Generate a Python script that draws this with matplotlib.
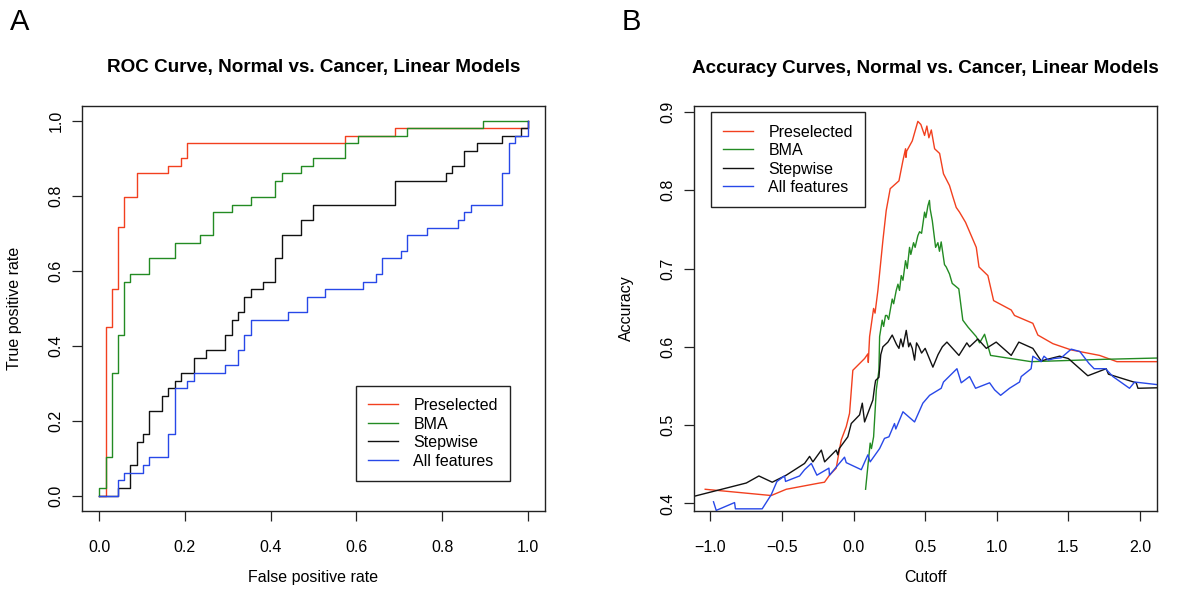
import matplotlib
matplotlib.use("Agg")
import matplotlib.pyplot as plt

plt.rcParams["font.family"] = ["Liberation Sans", "DejaVu Sans"]

# ROC data (false positive rate, true positive rate), step corners
pre_fpr = [0, 0.0155, 0.0295, 0.0434, 0.058, 0.0876, 0.161, 0.191, 0.205, 0.574, 0.690, 1.0]
pre_tpr = [0, 0.449, 0.551, 0.716, 0.797, 0.859, 0.879, 0.900, 0.940, 0.960, 0.980, 1.0]

bma_fpr = [0, 0, 0.0155, 0.0295, 0.0434, 0.058, 0.0729, 0.117, 0.177, 0.235, 0.265, 0.309,
           0.353, 0.411, 0.426, 0.470, 0.499, 0.574, 0.603, 0.719, 0.895, 1.0]
bma_tpr = [0, 0.020, 0.102, 0.327, 0.428, 0.571, 0.592, 0.633, 0.674, 0.694, 0.756, 0.776,
           0.797, 0.838, 0.859, 0.879, 0.900, 0.940, 0.960, 0.980, 1.0, 1.0]

step_fpr = [0, 0.0434, 0.0729, 0.0876, 0.102, 0.117, 0.147, 0.161, 0.177, 0.191, 0.221, 0.250,
            0.294, 0.309, 0.323, 0.338, 0.353, 0.381, 0.411, 0.426, 0.470, 0.499, 0.690, 0.808,
            0.822, 0.851, 0.880, 0.9395, 0.983, 1.0]
step_tpr = [0, 0.020, 0.082, 0.143, 0.164, 0.225, 0.266, 0.286, 0.307, 0.327, 0.368, 0.388,
            0.429, 0.469, 0.491, 0.531, 0.551, 0.571, 0.633, 0.694, 0.735, 0.776, 0.838, 0.859,
            0.879, 0.920, 0.940, 0.960, 0.980, 1.0]

all_fpr = [0, 0.0434, 0.058, 0.102, 0.117, 0.161, 0.177, 0.206, 0.221, 0.294, 0.323, 0.338,
           0.353, 0.440, 0.484, 0.527, 0.616, 0.646, 0.660, 0.704, 0.719, 0.764, 0.8365, 0.851,
           0.866, 0.9395, 0.955, 0.969, 1.0, 1.0]
all_tpr = [0, 0.041, 0.061, 0.082, 0.102, 0.164, 0.286, 0.307, 0.327, 0.348, 0.388, 0.429,
           0.469, 0.491, 0.531, 0.551, 0.571, 0.592, 0.633, 0.653, 0.694, 0.714, 0.735, 0.755,
           0.776, 0.859, 0.940, 0.960, 0.980, 1.0]

# accuracy curves (cutoff, accuracy)
pre_cut = [-1.036, -0.575, -0.470, -0.237, -0.203, -0.168, -0.121, -0.103, -0.086, -0.051, -0.028,
           -0.005, 0.077, 0.100, 0.103, 0.112, 0.140, 0.150, 0.170, 0.205, 0.228, 0.256, 0.317,
           0.345, 0.363, 0.366, 0.371, 0.410, 0.449, 0.470, 0.496, 0.512, 0.526, 0.543, 0.566,
           0.601, 0.628, 0.670, 0.693, 0.717, 0.740, 0.782, 0.857, 0.876, 0.938, 0.978, 1.101,
           1.124, 1.252, 1.287, 1.392, 1.520, 1.718, 1.839, 2.2]
pre_acc = [0.418, 0.410, 0.418, 0.426, 0.427, 0.436, 0.445, 0.464, 0.481, 0.498, 0.515,
           0.570, 0.585, 0.591, 0.580, 0.613, 0.649, 0.643, 0.672, 0.736, 0.774, 0.802, 0.812,
           0.838, 0.853, 0.842, 0.850, 0.863, 0.888, 0.884, 0.870, 0.882, 0.867, 0.877, 0.853,
           0.847, 0.821, 0.806, 0.792, 0.778, 0.772, 0.759, 0.727, 0.702, 0.691, 0.659, 0.647,
           0.640, 0.630, 0.615, 0.604, 0.596, 0.589, 0.581, 0.581]

bma_cut = [0.084, 0.116, 0.125, 0.140, 0.159, 0.177, 0.182, 0.200, 0.210, 0.223, 0.233, 0.245,
           0.270, 0.280, 0.298, 0.310, 0.321, 0.333, 0.345, 0.363, 0.375, 0.391, 0.400, 0.419,
           0.430, 0.449, 0.461, 0.475, 0.496, 0.505, 0.519, 0.530, 0.535, 0.550, 0.573, 0.589,
           0.600, 0.612, 0.635, 0.647, 0.670, 0.689, 0.735, 0.763, 0.800, 0.857, 0.880, 0.915,
           0.957, 1.240, 1.750, 2.2]
bma_acc = [0.418, 0.477, 0.470, 0.485, 0.545, 0.570, 0.613, 0.634, 0.626, 0.640, 0.640, 0.635,
           0.661, 0.655, 0.672, 0.680, 0.672, 0.691, 0.685, 0.710, 0.700, 0.727, 0.718, 0.733,
           0.727, 0.742, 0.747, 0.745, 0.772, 0.765, 0.780, 0.787, 0.776, 0.761, 0.727, 0.733,
           0.722, 0.734, 0.705, 0.702, 0.693, 0.681, 0.674, 0.634, 0.625, 0.613, 0.605, 0.616,
           0.589, 0.581, 0.584, 0.586]

step_cut = [-1.2, -0.749, -0.661, -0.568, -0.470, -0.342, -0.307, -0.284, -0.225, -0.202, -0.121,
            -0.110, -0.100, -0.040, -0.016, 0.042, 0.061, 0.077, 0.135, 0.147, 0.154, 0.177,
            0.190, 0.205, 0.240, 0.270, 0.300, 0.317, 0.330, 0.345, 0.368, 0.385, 0.395, 0.410,
            0.426, 0.440, 0.456, 0.475, 0.500, 0.554, 0.590, 0.620, 0.652, 0.736, 0.791, 0.810,
            0.868, 0.927, 0.996, 1.101, 1.154, 1.252, 1.310, 1.439, 1.500, 1.636, 1.764, 1.780,
            1.974, 1.986, 2.2]
step_acc = [0.405, 0.426, 0.435, 0.427, 0.436, 0.451, 0.460, 0.453, 0.468, 0.453, 0.468,
            0.462, 0.470, 0.485, 0.502, 0.513, 0.528, 0.504, 0.532, 0.549, 0.557, 0.561,
            0.590, 0.600, 0.606, 0.615, 0.603, 0.598, 0.610, 0.600, 0.621, 0.600, 0.605, 0.598,
            0.583, 0.605, 0.600, 0.592, 0.598, 0.574, 0.590, 0.600, 0.606, 0.589, 0.605, 0.600,
            0.610, 0.598, 0.606, 0.589, 0.606, 0.598, 0.582, 0.588, 0.585, 0.563, 0.572, 0.565,
            0.554, 0.547, 0.548]

all_cut = [-0.978, -0.959, -0.831, -0.825, -0.638, -0.575, -0.535, -0.482, -0.475, -0.377, -0.342,
           -0.295, -0.256, -0.172, -0.168, -0.063, -0.051, 0.054, 0.100, 0.116, 0.182, 0.216,
           0.247, 0.286, 0.295, 0.345, 0.426, 0.484, 0.531, 0.612, 0.628, 0.722, 0.752, 0.810,
           0.852, 0.950, 0.985, 1.027, 1.089, 1.159, 1.171, 1.240, 1.252, 1.310, 1.330, 1.360,
           1.400, 1.450, 1.520, 1.580, 1.643, 1.680, 1.760, 1.811, 1.927, 1.963, 2.2]
all_acc = [0.402, 0.391, 0.401, 0.393, 0.393, 0.411, 0.428, 0.435, 0.428, 0.435, 0.443,
           0.451, 0.436, 0.445, 0.436, 0.459, 0.452, 0.443, 0.462, 0.453, 0.470, 0.483,
           0.485, 0.502, 0.495, 0.517, 0.504, 0.528, 0.538, 0.547, 0.555, 0.572, 0.554, 0.562,
           0.547, 0.554, 0.545, 0.538, 0.547, 0.555, 0.562, 0.572, 0.588, 0.581, 0.588, 0.583,
           0.585, 0.586, 0.597, 0.594, 0.579, 0.572, 0.572, 0.562, 0.547, 0.555, 0.550]

labels = ["Preselected", "BMA", "Stepwise", "All features"]
colors = ["#f2401f", "#238b23", "#111111", "#2848e8"]

fig = plt.figure(figsize=(12, 6.12), dpi=100)
ax1 = fig.add_axes([0.0683, 0.1655, 0.386, 0.662])
ax2 = fig.add_axes([0.578, 0.1655, 0.3864, 0.6618])

fs = 11.5
for ax in (ax1, ax2):
    for s in ax.spines.values():
        s.set_linewidth(1.0)
        s.set_color("#222222")
    ax.tick_params(direction="out", length=7.2, width=0.9, labelsize=fs, color="#222222")
    ax.tick_params(axis="x", pad=14)
    ax.tick_params(axis="y", pad=6)


def add_legend(ax, loc, anchor):
    leg = ax.legend(loc=loc, bbox_to_anchor=anchor, fontsize=fs, frameon=True,
                    fancybox=False, edgecolor="#222222", framealpha=1, handlelength=1.9,
                    handletextpad=0.95, labelspacing=0.22, borderpad=0.76, borderaxespad=0)
    leg.get_frame().set_linewidth(1.0)


# panel A: ROC
rocs = [(pre_fpr, pre_tpr), (bma_fpr, bma_tpr), (step_fpr, step_tpr), (all_fpr, all_tpr)]
for (fx, ty), lab, c in zip(rocs, labels, colors):
    ax1.step(fx, ty, where="post", color=c, lw=1.0, label=lab)
ax1.set_xlim(-0.04, 1.04)
ax1.set_ylim(-0.04, 1.04)
ax1.set_xticks([0.0, 0.2, 0.4, 0.6, 0.8, 1.0])
ax1.set_yticks([0.0, 0.2, 0.4, 0.6, 0.8, 1.0])
ax1.set_xticklabels(["0.0", "0.2", "0.4", "0.6", "0.8", "1.0"])
ax1.set_yticklabels(["0.0", "0.2", "0.4", "0.6", "0.8", "1.0"], rotation=90, va="center")
ax1.set_xlabel("False positive rate", fontsize=fs, va="center")
ax1.set_ylabel("True positive rate", fontsize=fs, va="center")
ax1.xaxis.set_label_coords(0.5, -0.166)
ax1.yaxis.set_label_coords(-0.145, 0.5)
ax1.text(0.5, 1.093, "ROC Curve, Normal vs. Cancer, Linear Models", transform=ax1.transAxes,
         ha="center", va="center", fontsize=13.6, fontweight="bold")
add_legend(ax1, "lower left", (0.591, 0.074))

# panel B: accuracy
accs = [(pre_cut, pre_acc), (bma_cut, bma_acc), (step_cut, step_acc), (all_cut, all_acc)]
for (cx, ay), lab, c in zip(accs, labels, colors):
    ax2.plot(cx, ay, color=c, lw=1.0, label=lab)
ax2.set_xlim(-1.117, 2.121)
ax2.set_ylim(0.3906, 0.908)
ax2.set_xticks([-1.0, -0.5, 0.0, 0.5, 1.0, 1.5, 2.0])
ax2.set_xticklabels(["\u22121.0", "\u22120.5", "0.0", "0.5", "1.0", "1.5", "2.0"])
ax2.set_yticks([0.4, 0.5, 0.6, 0.7, 0.8, 0.9])
ax2.set_yticklabels(["0.4", "0.5", "0.6", "0.7", "0.8", "0.9"], rotation=90, va="center")
ax2.set_xlabel("Cutoff", fontsize=fs, va="center")
ax2.set_ylabel("Accuracy", fontsize=fs, va="center")
ax2.xaxis.set_label_coords(0.5, -0.166)
ax2.yaxis.set_label_coords(-0.1445, 0.5)
ax2.text(0.5, 1.093, "Accuracy Curves, Normal vs. Cancer, Linear Models", transform=ax2.transAxes,
         ha="center", va="center", fontsize=13.6, fontweight="bold")
add_legend(ax2, "upper left", (0.0367, 0.9835))

fig.text(10 / 1200, 1 - 22 / 612, "A", fontsize=21, ha="left", va="center")
fig.text(622 / 1200, 1 - 22 / 612, "B", fontsize=21, ha="left", va="center")

fig.savefig("out.png", dpi=100)
